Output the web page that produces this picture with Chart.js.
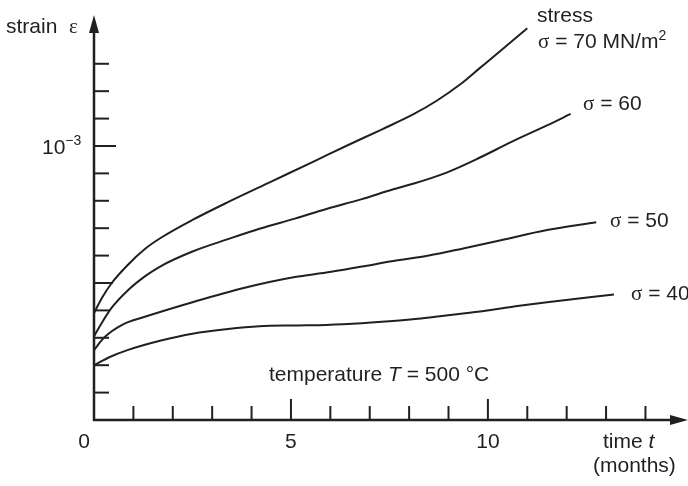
<!DOCTYPE html>
<html>
<head>
<meta charset="utf-8">
<script src="https://cdn.jsdelivr.net/npm/chart.js@4.4.0/dist/chart.umd.min.js"></script>
<style>
  body { margin: 0; background: #fff; }
  #wrap { width: 688px; height: 486px; }
</style>
</head>
<body>
<div id="wrap"><canvas id="myChart" width="688" height="486"></canvas></div>
<script>
// time in months, strain in units of 1e-4
var months70 = [0, 0.2, 0.45, 0.85, 1.3, 1.7, 2.5, 3.4, 4.5, 5.6, 6.4, 7.3, 8.1, 8.7, 9.3, 9.8, 10.3, 11.0];
var strain70 = [3.9, 4.45, 5.0, 5.65, 6.25, 6.65, 7.3, 7.95, 8.7, 9.45, 10.0, 10.6, 11.15, 11.65, 12.25, 12.85, 13.45, 14.3];

var months60 = [0, 0.2, 0.45, 0.85, 1.3, 1.7, 2.5, 3.4, 4.2, 5.1, 5.9, 6.8, 7.6, 8.1, 8.95, 9.8, 10.6, 11.5, 12.1];
var strain60 = [3.05, 3.55, 4.1, 4.72, 5.25, 5.62, 6.15, 6.6, 6.98, 7.35, 7.7, 8.06, 8.42, 8.62, 9.03, 9.58, 10.15, 10.75, 11.17];

var months50 = [0, 0.25, 0.75, 1.25, 2.5, 3.8, 5.1, 5.9, 6.8, 7.6, 8.5, 9.4, 10.3, 11.5, 12.75];
var strain50 = [2.55, 3.0, 3.5, 3.75, 4.3, 4.82, 5.22, 5.38, 5.6, 5.8, 6.0, 6.27, 6.55, 6.93, 7.22];

var months40 = [0, 0.4, 0.85, 1.7, 2.5, 3.4, 4.2, 5.1, 5.9, 6.8, 7.5, 8.3, 9.1, 9.9, 10.7, 11.5, 13.2];
var strain40 = [2.0, 2.3, 2.55, 2.9, 3.15, 3.32, 3.42, 3.45, 3.47, 3.53, 3.6, 3.7, 3.84, 3.98, 4.15, 4.3, 4.58];

var xTicks = [1, 2, 3, 4, 5, 6, 7, 8, 9, 10, 11, 12, 13, 14];
var xLabels = [0, 5, 10];
var yTicks = [1, 2, 3, 4, 5, 6, 7, 8, 9, 10, 11, 12, 13];

var ink = '#231f20';
var sans = '"Liberation Sans", Arial, sans-serif';
var serif = '"Liberation Serif", "Times New Roman", serif';

function pts(xs, ys) {
  return xs.map(function (x, i) { return { x: x, y: ys[i] }; });
}

function curve(xs, ys) {
  return {
    data: pts(xs, ys),
    borderColor: ink,
    borderWidth: 2,
    pointRadius: 0,
    fill: false,
    cubicInterpolationMode: 'monotone',
    clip: false
  };
}

// draw a row of text pieces with their own fonts
function runs(ctx, x, y, parts) {
  parts.forEach(function (p) {
    ctx.font = p.f;
    ctx.fillText(p.t, x, y + (p.dy || 0));
    x += ctx.measureText(p.t).width;
  });
}

var axesPlugin = {
  id: 'axesPlugin',
  afterDraw: function (chart) {
    var ctx = chart.ctx;
    var sx = chart.scales.x, sy = chart.scales.y;
    var x0 = sx.getPixelForValue(0), y0 = sy.getPixelForValue(0);
    var top = chart.chartArea.top, right = chart.chartArea.right;
    ctx.save();
    ctx.strokeStyle = ink;
    ctx.fillStyle = ink;
    ctx.lineWidth = 2.5;
    ctx.beginPath();
    ctx.moveTo(x0, y0 + 1);
    ctx.lineTo(x0, top + 16);
    ctx.moveTo(x0 - 1, y0);
    ctx.lineTo(right - 16, y0);
    ctx.stroke();
    // arrows
    ctx.beginPath();
    ctx.moveTo(x0, top);
    ctx.lineTo(x0 - 5, top + 18);
    ctx.lineTo(x0 + 5, top + 18);
    ctx.closePath();
    ctx.fill();
    ctx.beginPath();
    ctx.moveTo(right, y0);
    ctx.lineTo(right - 18, y0 - 5);
    ctx.lineTo(right - 18, y0 + 5);
    ctx.closePath();
    ctx.fill();

    ctx.lineWidth = 2;
    yTicks.forEach(function (v) {
      var py = sy.getPixelForValue(v);
      var len = v % 10 === 0 ? 22 : (v % 5 === 0 ? 19 : 15);
      ctx.beginPath();
      ctx.moveTo(x0, py);
      ctx.lineTo(x0 + len, py);
      ctx.stroke();
    });
    xTicks.forEach(function (v) {
      var px = sx.getPixelForValue(v);
      var len = v % 5 === 0 ? 21 : 14;
      ctx.beginPath();
      ctx.moveTo(px, y0);
      ctx.lineTo(px, y0 - len);
      ctx.stroke();
    });

    // labels
    ctx.textBaseline = 'alphabetic';
    ctx.textAlign = 'center';
    ctx.font = '21px ' + sans;
    xLabels.forEach(function (v) {
      var px = sx.getPixelForValue(v) + (v === 0 ? -10 : 0);
      ctx.fillText(String(v), px, y0 + 28);
    });
    ctx.textAlign = 'left';
    var f = '21px ' + sans;
    var fi = 'italic 21px ' + sans;
    var fs = '21px ' + serif;
    var sup = '14px ' + sans;
    runs(ctx, 6, 33, [{ t: 'strain  ', f: f }, { t: 'ε', f: fs }]);
    runs(ctx, 42, sy.getPixelForValue(10) + 8, [{ t: '10', f: f }, { t: '−3', f: sup, dy: -9 }]);
    runs(ctx, 603, 448, [{ t: 'time ', f: f }, { t: 't', f: fi }]);
    runs(ctx, 593, 472, [{ t: '(months)', f: f }]);
    runs(ctx, 537, 22, [{ t: 'stress', f: f }]);
    runs(ctx, 538, 48, [{ t: 'σ', f: fs }, { t: ' = 70 MN/m', f: f }, { t: '2', f: sup, dy: -8 }]);
    runs(ctx, 583, 110, [{ t: 'σ', f: fs }, { t: ' = 60', f: f }]);
    runs(ctx, 610, 227, [{ t: 'σ', f: fs }, { t: ' = 50', f: f }]);
    runs(ctx, 631, 300, [{ t: 'σ', f: fs }, { t: ' = 40', f: f }]);
    runs(ctx, 269, 381, [{ t: 'temperature ', f: f }, { t: 'T', f: fi }, { t: ' = 500 °C', f: f }]);
    ctx.restore();
  }
};

var ctx = document.getElementById('myChart').getContext('2d');
var chart = new Chart(ctx, {
  type: 'line',
  data: {
    datasets: [
      curve(months70, strain70),
      curve(months60, strain60),
      curve(months50, strain50),
      curve(months40, strain40)
    ]
  },
  options: {
    responsive: false,
    animation: false,
    layout: { padding: { left: 94, right: 0, top: 15, bottom: 66 } },
    plugins: { legend: { display: false }, tooltip: { enabled: false } },
    scales: {
      x: { type: 'linear', min: 0, max: 15.08, display: false },
      y: { type: 'linear', min: 0, max: 14.78, display: false }
    }
  },
  plugins: [axesPlugin]
});
</script>
</body>
</html>
